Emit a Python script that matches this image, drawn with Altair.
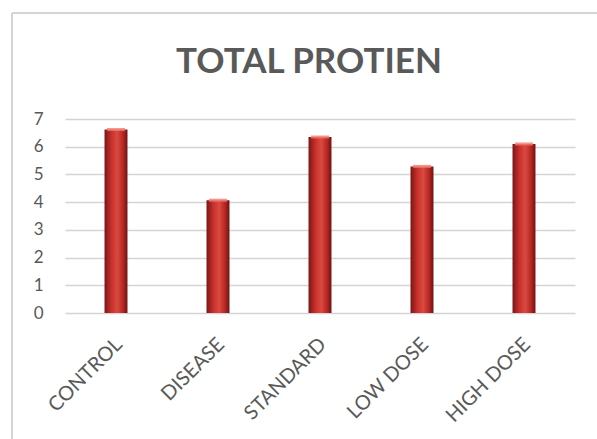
import altair as alt
import pandas as pd

# Total protein by treatment group
groups = ["CONTROL", "DISEASE", "STANDARD", "LOW DOSE", "HIGH DOSE"]
protein = [6.62, 4.07, 6.35, 5.29, 6.10]
y_ticks = [0, 1, 2, 3, 4, 5, 6, 7]

df = pd.DataFrame({"group": groups, "protein": protein})

GRAY_TEXT = "#595959"
GRID = "#d4d4d4"

bar_fill = alt.Gradient(
    gradient="linear",
    x1=0, x2=1, y1=0, y2=0,
    stops=[
        alt.GradientStop(color="#7a1515", offset=0),
        alt.GradientStop(color="#c8302c", offset=0.3),
        alt.GradientStop(color="#da4a40", offset=0.55),
        alt.GradientStop(color="#b82824", offset=0.8),
        alt.GradientStop(color="#6e1212", offset=1),
    ],
)

x_enc = alt.X(
    "group:N",
    sort=groups,
    scale=alt.Scale(paddingInner=0.775, paddingOuter=0.3875),
    axis=alt.Axis(
        title=None,
        labelAngle=-45,
        labelAlign="right",
        labelBaseline="top",
        labelFont="Lato",
        labelFontSize=20,
        labelColor=GRAY_TEXT,
        labelPadding=21,
        labelOffset=-4,
        ticks=False,
        domain=False,
        grid=False,
    ),
)

y_enc = alt.Y(
    "protein:Q",
    scale=alt.Scale(domain=[0, 7], nice=False),
    axis=alt.Axis(
        title=None,
        values=y_ticks,
        labelFont="Lato",
        labelFontSize=17,
        labelColor=GRAY_TEXT,
        labelPadding=22,
        ticks=False,
        domain=False,
        gridColor=GRID,
        gridWidth=1.5,
    ),
)

bars = alt.Chart(df).mark_bar(color=bar_fill).encode(x=x_enc, y=y_enc)

# light cap on the top of each column
caps = alt.Chart(df).mark_tick(
    color="#f07a70", thickness=3, size=18, opacity=0.8
).encode(x=x_enc, y=y_enc)

# outer frame of the chart area
frame_left = alt.Chart(df).mark_rule(color=GRID, strokeWidth=2).encode(
    x=alt.value(-53), y=alt.value(-106), y2=alt.value(330)
)
frame_top = alt.Chart(df).mark_rule(color=GRID, strokeWidth=2).encode(
    x=alt.value(-53), x2=alt.value(540), y=alt.value(-106)
)

chart = (
    alt.layer(frame_left, frame_top, bars, caps)
    .properties(
        width=510,
        height=194,
        background="white",
        autosize=alt.AutoSizeParams(type="none"),
        padding={"left": 65, "top": 119, "right": 22, "bottom": 126},
        title=alt.TitleParams(
            "TOTAL PROTIEN",
            font="Lato",
            fontSize=35,
            fontWeight="bold",
            color=GRAY_TEXT,
            anchor="middle",
            frame="group",
            baseline="alphabetic",
            offset=0,
            dy=96,
            dx=-11,
        ),
    )
    .configure_view(stroke=None, strokeWidth=0)
)

chart.save("out.html", embed_options={"renderer": "svg", "actions": False})
